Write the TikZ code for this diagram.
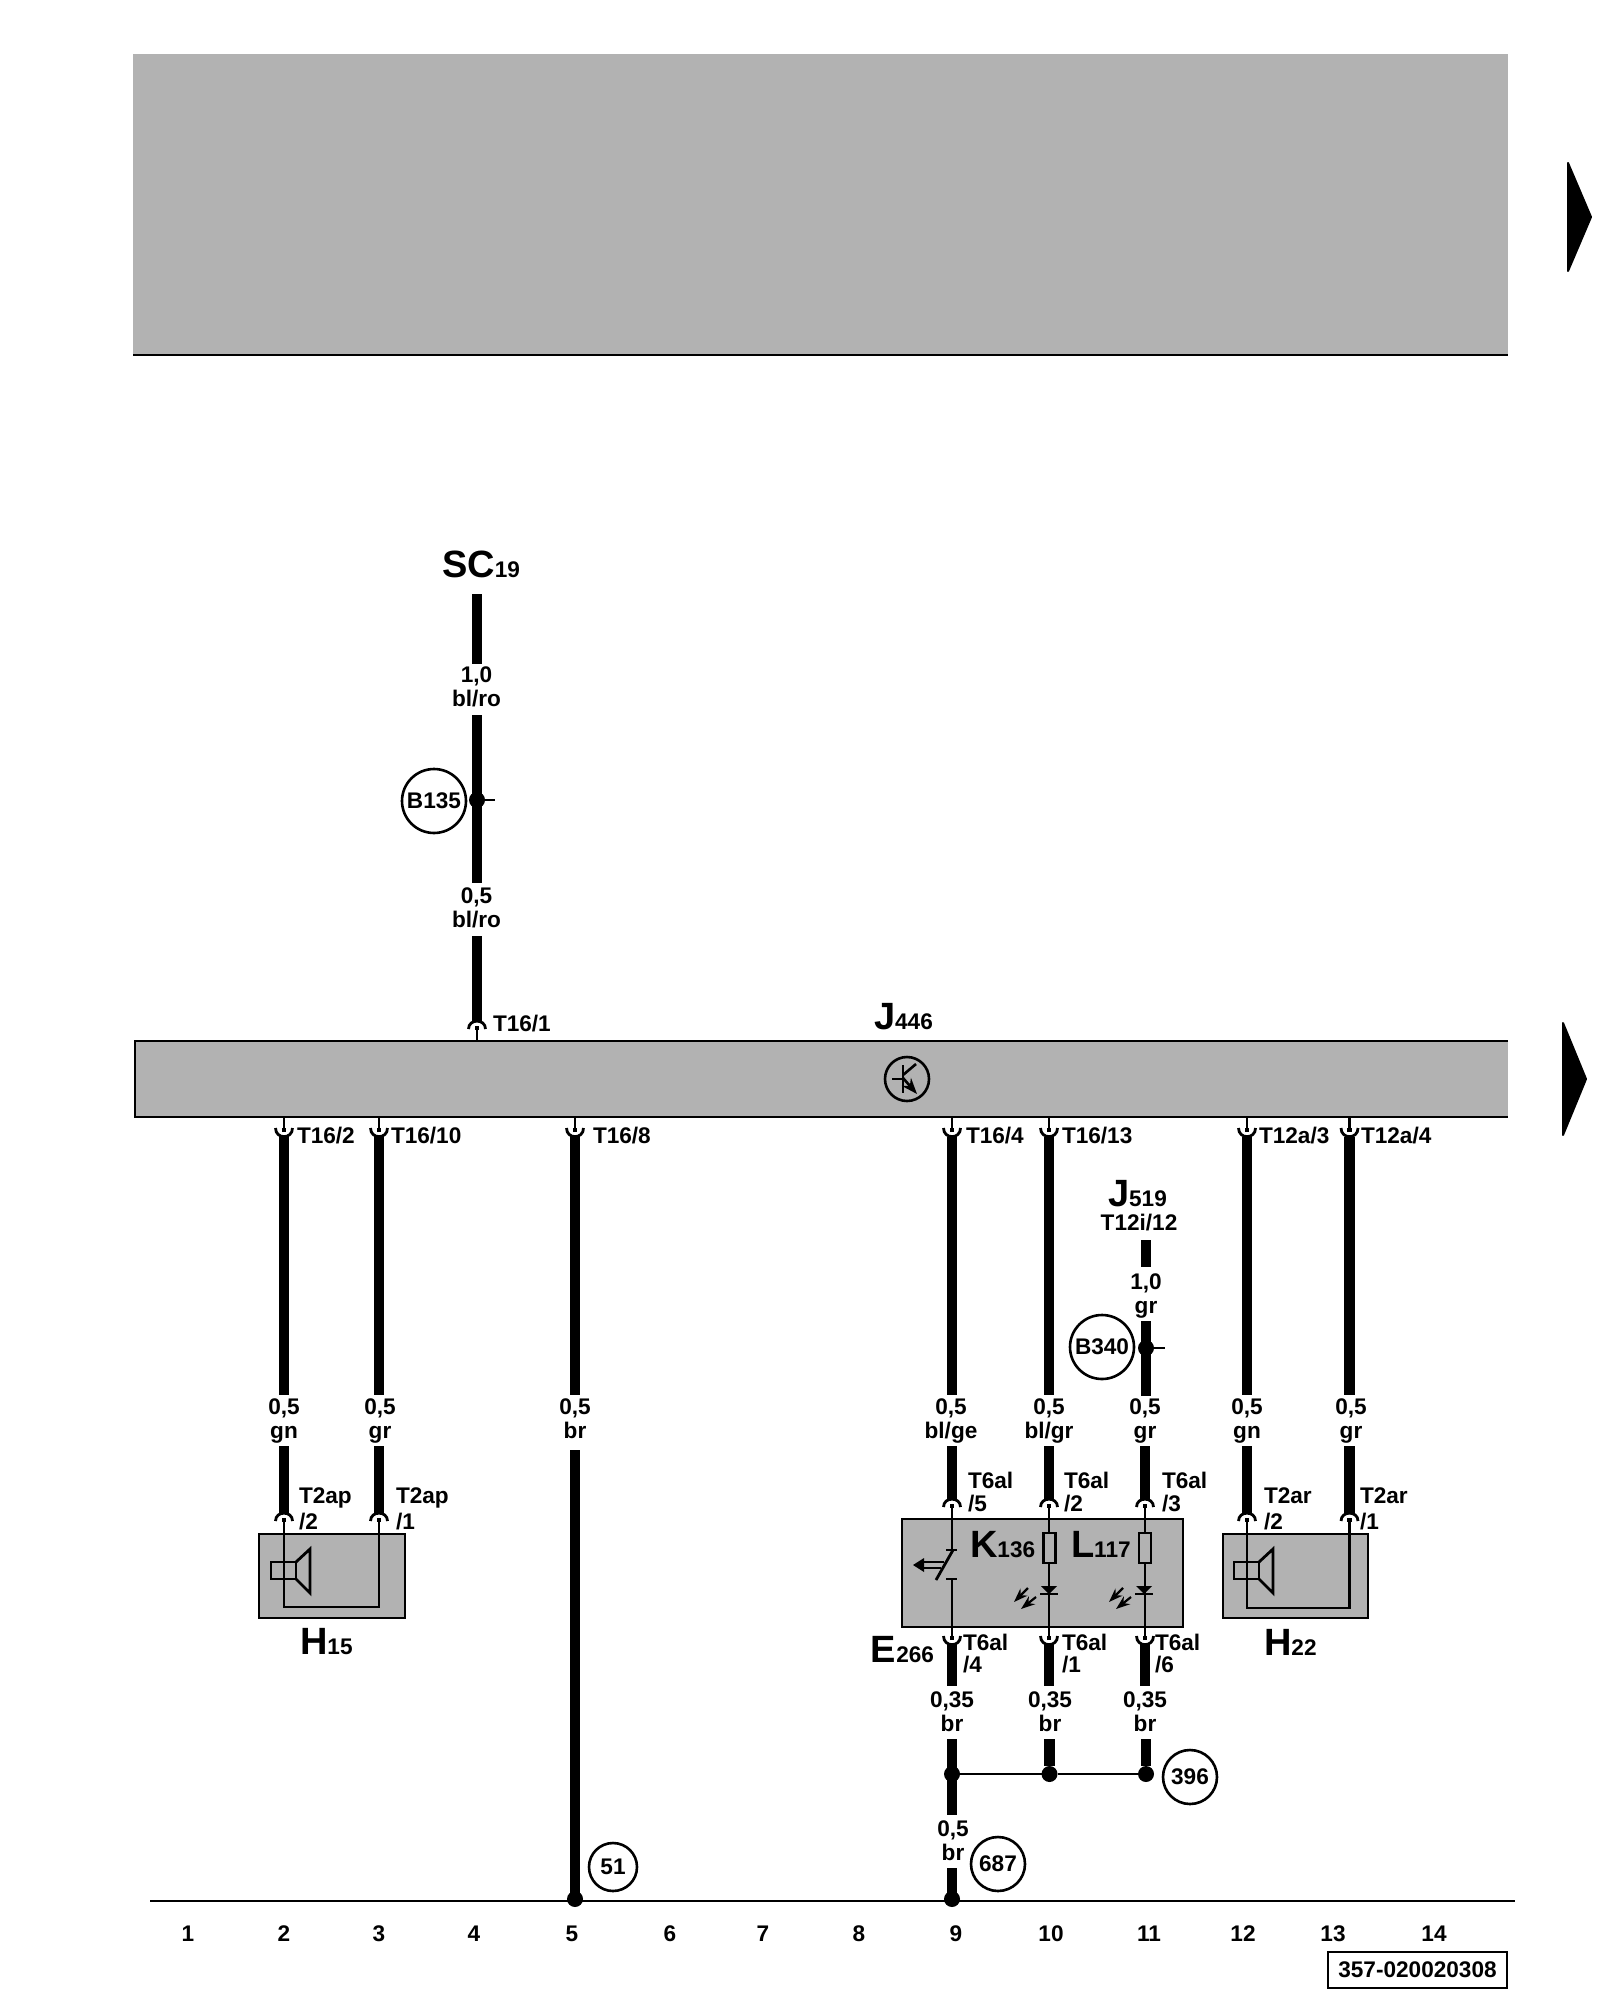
\documentclass[tikz,border=0pt]{standalone}
\usepackage{fontspec}
\setmainfont{Liberation Sans}[BoldFont={Liberation Sans Bold}]
\usetikzlibrary{arrows.meta}
\definecolor{panel}{HTML}{B2B2B2}
\newcommand{\Bg}[1]{{\fontsize{19}{20}\selectfont #1}}
\tikzset{
  x=0.5pt,y=-0.5pt,
  every node/.style={font=\fontsize{11.3}{12}\selectfont\bfseries,inner sep=0pt,outer sep=0pt,text=black},
  lbl/.style={anchor=base},
  lblw/.style={anchor=base west},
  heavy/.style={line width=5.3pt,line cap=butt},
  thinw/.style={line width=1.4pt,line cap=butt},
  outl/.style={line width=1.4pt,line join=miter},
  panelbox/.style={fill=panel,draw=black,line width=1.3pt},
  bubble/.style={circle,draw=black,line width=1.3pt,fill=white},
  dotn/.style={circle,fill=black,minimum size=8pt},
  conntop/.pic={
    \draw[line width=1.4pt] (-8.5,8) .. controls (-8.5,-2.5) and (8.5,-2.5) .. (8.5,8);
    \draw[line width=2.4pt] (0,5) -- (0,9);
  },
  connbot/.pic={
    \draw[line width=1.4pt] (-8.5,-9) .. controls (-8.5,2.5) and (8.5,2.5) .. (8.5,-9);
    \draw[line width=2.4pt] (0,-5) -- (0,-9);
  },
  speaker/.pic={
    \draw[outl] (-13,-14) rectangle (12,3);
    \draw[outl] (12,-14) -- (26,-27) -- (26,17) -- (12,3);
  },
  led/.pic={
    \fill (-8,0) -- (8,0) -- (0,8) -- cycle;
    \draw[line width=1.4pt] (-9,8) -- (9,8);
    \draw[line width=1.1pt,-{Stealth[length=7pt,width=5pt]}] (-21,2) -- (-35,16);
    \draw[line width=1.1pt,-{Stealth[length=7pt,width=5pt]}] (-13,11) -- (-28,23);
  }
}
\newcommand{\wl}[5]{%
  \node[lbl] (#1a) at (#2,#3) {#4};
  \node[lbl] (#1b) at (#2,#3+24) {#5};}
\begin{document}
\begin{tikzpicture}
\useasboundingbox (0,0) rectangle (1600,2000);
\fill[white] (0,0) rectangle (1600,2000);
% top grey panel
\fill[panel] (133,54) rectangle (1508,355);
\draw[line width=1.2pt] (133,355) -- (1508,355);
% page arrows
\fill[draw=black,line width=1pt,line join=round] (1568,163) -- (1591,217) -- (1568,271) -- cycle;
\fill[draw=black,line width=1pt,line join=round] (1563,1023) -- (1586,1079) -- (1563,1135) -- cycle;
% J446 bar
\fill[panel] (135,1041) rectangle (1508,1117);
\draw[line width=1.3pt] (1508,1041) -- (135,1041) -- (135,1117) -- (1508,1117);
% transistor symbol
\node[circle,draw=black,line width=1.3pt,minimum size=22pt] (tr) at (907,1079) {};
\draw[line width=1.3pt] (892,1079) -- (903,1079);
\draw[line width=1.3pt] (903,1065) -- (903,1093);
\draw[line width=1.3pt] (903,1075) -- (916,1064);
\draw[line width=1.3pt,-{Stealth[length=8pt,width=6pt]}] (903,1078) -- (917,1094);
% module boxes
\node[panelbox,minimum width=73pt,minimum height=42pt] (H15) at (332,1576) {};
\node[panelbox,minimum width=72.5pt,minimum height=42pt] (H22) at (1295.5,1576) {};
\node[panelbox,minimum width=140.5pt,minimum height=54pt] (E266) at (1042.5,1573) {};
% top feed
\node[lblw] (SC) at (442,577) {\Bg{SC}19};
\coordinate (sc1) at (477,594);\coordinate (sc2) at (477,664);
\wl{w01}{476.5}{682}{1,0}{bl/ro}
\coordinate (sc3) at (477,715);\coordinate (sc4) at (477,883);
\wl{w02}{476.5}{903}{0,5}{bl/ro}
\coordinate (sc5) at (477,936);\coordinate (sc6) at (477,1021);
\draw[heavy] (sc1) -- (sc2);
\draw[heavy] (sc3) -- (sc4);
\draw[heavy] (sc5) -- (sc6);
\pic at (sc6) {conntop};
\draw[thinw] (477,1026) -- (477,1041);
\node[lblw] (p161) at (493,1031) {T16/1};
\node[dotn] (dB135) at (477,800) {};
\coordinate (sB135) at (495,800);
\draw[thinw] (dB135) -- (sB135);
\node[bubble,minimum size=32pt] (B135) at (434,801) {B135};
% J446 label
\node[lblw] (J446) at (874,1029) {\Bg{J}446};
% wires below bar
\foreach \nm/\xx/\txt/\tx in {a/284/T16\slash 2/297,b/379/T16\slash 10/391,c/575/T16\slash 8/593,d/952/T16\slash 4/966,e/1049/T16\slash 13/1062,f/1247/T12a\slash 3/1259,g/1349.5/T12a\slash 4/1361}{
  \coordinate (\nm t) at (\xx,1137);
  \pic at (\nm t) {connbot};
  \draw[thinw] (\xx,1132) -- (\xx,1117);
  \node[lblw] (\nm l) at (\tx,1143) {\txt};
  \draw[heavy] (\nm t) -- (\xx,1395);
}
% lower labels
\wl{w1}{284}{1414}{0,5}{gn}
\wl{w2}{380}{1414}{0,5}{gr}
\wl{w3}{575}{1414}{0,5}{br}
\wl{w4}{951}{1414}{0,5}{bl/ge}
\wl{w5}{1049}{1414}{0,5}{bl/gr}
\wl{w6}{1145}{1414}{0,5}{gr}
\wl{w7}{1247}{1414}{0,5}{gn}
\wl{w8}{1351}{1414}{0,5}{gr}
% speaker H15
\coordinate (h15a) at (284,1513);\coordinate (h15b) at (379,1513);
\draw[heavy] (284,1446) -- (h15a);
\draw[heavy] (379,1446) -- (h15b);
\pic at (h15a) {conntop};
\pic at (h15b) {conntop};
\draw[thinw] (284,1518) -- (284,1607) -- (379,1607) -- (379,1518);
\pic at (284,1576) {speaker};
\node[lblw] (t1) at (299,1503) {T2ap};
\node[lblw] (t2) at (299,1529) {/2};
\node[lblw] (t3) at (396,1503) {T2ap};
\node[lblw] (t4) at (396,1529) {/1};
\node[lblw] (lH15) at (300,1654) {\Bg{H}15};
% speaker H22
\coordinate (h22a) at (1247,1513);\coordinate (h22b) at (1349.5,1513);
\draw[heavy] (1247,1446) -- (h22a);
\draw[heavy] (1349.5,1446) -- (h22b);
\pic at (h22a) {conntop};
\pic at (h22b) {conntop};
\draw[thinw] (1247,1518) -- (1247,1608) -- (1349.5,1608) -- (1349.5,1518);
\pic at (1247,1576) {speaker};
\node[lblw] (t5) at (1264,1503) {T2ar};
\node[lblw] (t6) at (1264,1529) {/2};
\node[lblw] (t7) at (1360,1503) {T2ar};
\node[lblw] (t8) at (1360,1529) {/1};
\node[lblw] (lH22) at (1264,1655) {\Bg{H}22};
% E266 feeds
\coordinate (u1) at (952,1499);\coordinate (u2) at (1049,1499);\coordinate (u3) at (1145,1499);
\coordinate (v1) at (952,1645);\coordinate (v2) at (1049,1645);\coordinate (v3) at (1145,1645);
\draw[heavy] (952,1446) -- (u1);
\draw[heavy] (1049,1446) -- (u2);
\draw[heavy] (1145,1446) -- (u3);
\pic at (u1) {conntop};\pic at (u2) {conntop};\pic at (u3) {conntop};
\pic at (v1) {connbot};\pic at (v2) {connbot};\pic at (v3) {connbot};
\draw[heavy] (v1) -- (952,1686);
\draw[heavy] (v2) -- (1049,1686);
\draw[heavy] (v3) -- (1145,1686);
% switch
\draw[thinw] (952,1504) -- (952,1550);
\draw[thinw] (946,1550) -- (957,1550);
\draw[thinw] (953,1550) -- (936,1580);
\draw[thinw] (946,1579) -- (957,1579);
\draw[thinw] (952,1579) -- (952,1640);
\draw[line width=1.2pt] (922,1562) -- (944,1562);
\draw[line width=1.2pt] (922,1568) -- (941,1568);
\fill (913,1565) -- (924,1558) -- (924,1572) -- cycle;
% K136 / L117 channels
\draw[thinw] (1049,1504) -- (1049,1640);
\draw[thinw] (1145,1504) -- (1145,1640);
\node[panelbox,minimum width=6pt,minimum height=15pt] (rk) at (1049.5,1548) {};
\node[panelbox,minimum width=6pt,minimum height=15pt] (rl) at (1145,1548) {};
\pic at (1049,1586) {led};
\pic at (1144,1586) {led};
\node[lblw] (K136) at (970,1557) {\Bg{K}136};
\node[lblw] (L117) at (1071,1557) {\Bg{L}117};
\foreach \nm/\xx/\pp in {q1/968/5,q2/1064/2,q3/1162/3}{
  \node[lblw] (\nm a) at (\xx,1488) {T6al};
  \node[lblw] (\nm b) at (\xx,1511) {/\pp};
}
\foreach \nm/\xx/\pp in {r1/963/4,r2/1062/1,r3/1155/6}{
  \node[lblw] (\nm a) at (\xx,1650) {T6al};
  \node[lblw] (\nm b) at (\xx,1672) {/\pp};
}
\node[anchor=base east] (lE266) at (934,1662) {\Bg{E}266};
% J519 feed
\node[lblw] (J519) at (1108,1206) {\Bg{J}519};
\node[lbl] (T12i) at (1139,1230) {T12i/12};
\wl{w9}{1146}{1289}{1,0}{gr}
\coordinate (j1) at (1146,1240);\coordinate (j2) at (1146,1267);
\coordinate (j3) at (1146,1321);\coordinate (j4) at (1146,1396);
\draw[heavy] (j1) -- (j2);
\draw[heavy] (j3) -- (j4);
\node[dotn] (dB340) at (1146,1348) {};
\coordinate (sB340) at (1165,1348);
\draw[thinw] (dB340) -- (sB340);
\node[bubble,minimum size=32pt] (B340) at (1102,1347) {B340};
% 0,35 br
\wl{x1}{952}{1707}{0,35}{br}
\wl{x2}{1050}{1707}{0,35}{br}
\wl{x3}{1145}{1707}{0,35}{br}
\node[dotn] (g1) at (952,1774) {};
\node[dotn] (g2) at (1049.5,1774) {};
\node[dotn] (g3) at (1146,1774) {};
\draw[heavy] (952,1739) -- (952,1815);
\draw[heavy] (1049.5,1739) -- (g2);
\draw[heavy] (1146,1739) -- (g3);
\draw[line width=1.3pt] (g1) -- (g2) -- (g3);
\node[bubble,minimum size=27pt] (c396) at (1190,1777) {396};
\wl{x4}{953}{1836}{0,5}{br}
\draw[heavy] (952,1868) -- (952,1899);
\node[bubble,minimum size=27pt] (c687) at (998,1864) {687};
% T16/8 to ground
\draw[heavy] (575,1450) -- (575,1899);
\node[bubble,minimum size=24pt] (c51) at (613,1867) {51};
% ground line
\coordinate (gl) at (150,1901);\coordinate (gr) at (1515,1901);
\draw[line width=1.2pt] (gl) -- (gr);
\node[dotn] (gd1) at (575,1899) {};
\node[dotn] (gd2) at (952,1899) {};
% numbers
\foreach \i/\xx in {1/188,2/284,3/379,4/474,5/572,6/670,7/763,8/859,9/956,10/1051,11/1149,12/1243,13/1333,14/1434}{
  \node[lbl] (n\i) at (\xx,1941) {\i};
}
\node[draw=black,line width=1.2pt,minimum width=89.5pt,minimum height=18pt] (code) at (1417.5,1970) {357-020020308};
\end{tikzpicture}
\end{document}
